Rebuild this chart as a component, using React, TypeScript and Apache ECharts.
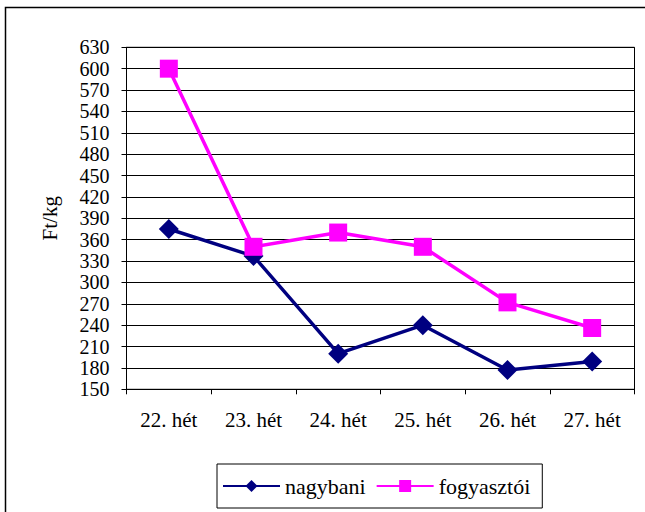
import React, { useEffect, useRef } from "react";
import * as echarts from "echarts";

const categories = ["22. hét", "23. hét", "24. hét", "25. hét", "26. hét", "27. hét"];
const nagybani = [375, 337, 200, 240, 177, 189];
const fogyasztoi = [600, 350, 370, 350, 272, 236];
const yMin = 150;
const yMax = 630;
const yStep = 30;

const FONT = "Liberation Serif";

export default function App() {
  const ref = useRef<HTMLDivElement>(null);
  useEffect(() => {
    if (!ref.current) return;
    const chart = echarts.init(ref.current, null, { renderer: "svg" });
    chart.setOption({
      animation: false,
      backgroundColor: "#ffffff",
      textStyle: { fontFamily: FONT, color: "#000" },
      graphic: [
        {
          type: "rect",
          shape: { x: 5.5, y: 7.5, width: 700, height: 600 },
          style: { fill: "none", stroke: "#000", lineWidth: 1.5 },
          silent: true,
        },
      ],
      grid: {
        left: 126.5,
        top: 47.3,
        right: 10.5,
        bottom: 122.7,
        show: true,
        borderColor: "#000",
        borderWidth: 1,
        backgroundColor: "transparent",
      },
      legend: {
        left: 217,
        top: 464,
        orient: "horizontal",
        borderColor: "#000",
        borderWidth: 1,
        padding: [11, 12, 11, 5],
        itemWidth: 57,
        itemHeight: 15,
        itemGap: 10,
        textStyle: { fontFamily: FONT, fontSize: 22, color: "#000" },
        data: ["nagybani", "fogyasztói"],
      },
      xAxis: {
        type: "category",
        data: categories,
        boundaryGap: true,
        axisLine: { show: true, lineStyle: { color: "#000", width: 1 } },
        axisTick: { show: true, length: 5, inside: false, lineStyle: { color: "#000" } },
        axisLabel: { fontFamily: FONT, fontSize: 21, color: "#000", margin: 20 },
        splitLine: { show: false },
      },
      yAxis: {
        type: "value",
        min: yMin,
        max: yMax,
        interval: yStep,
        name: "Ft/kg",
        nameLocation: "middle",
        nameRotate: 90,
        nameGap: 66,
        nameTextStyle: { fontFamily: FONT, fontSize: 21, color: "#000" },
        axisLine: { show: true, lineStyle: { color: "#000", width: 1 } },
        axisTick: { show: true, length: 5, inside: false, lineStyle: { color: "#000" } },
        axisLabel: { fontFamily: FONT, fontSize: 20, lineHeight: 20, color: "#000", margin: 17 },
        splitLine: { show: true, lineStyle: { color: "#000", width: 1 } },
      },
      series: [
        {
          name: "nagybani",
          type: "line",
          data: nagybani,
          symbol: "diamond",
          symbolSize: 20,
          itemStyle: { color: "#000080" },
          lineStyle: { color: "#000080", width: 3.5 },
          z: 3,
        },
        {
          name: "fogyasztói",
          type: "line",
          data: fogyasztoi,
          symbol: "rect",
          symbolSize: 18,
          itemStyle: { color: "#ff00ff" },
          lineStyle: { color: "#ff00ff", width: 3.5 },
          z: 4,
        },
      ],
    });
    return () => chart.dispose();
  }, []);
  return (
    <div
      ref={ref}
      style={{ position: "fixed", left: 0, top: 0, width: 645, height: 512 }}
    />
  );
}
